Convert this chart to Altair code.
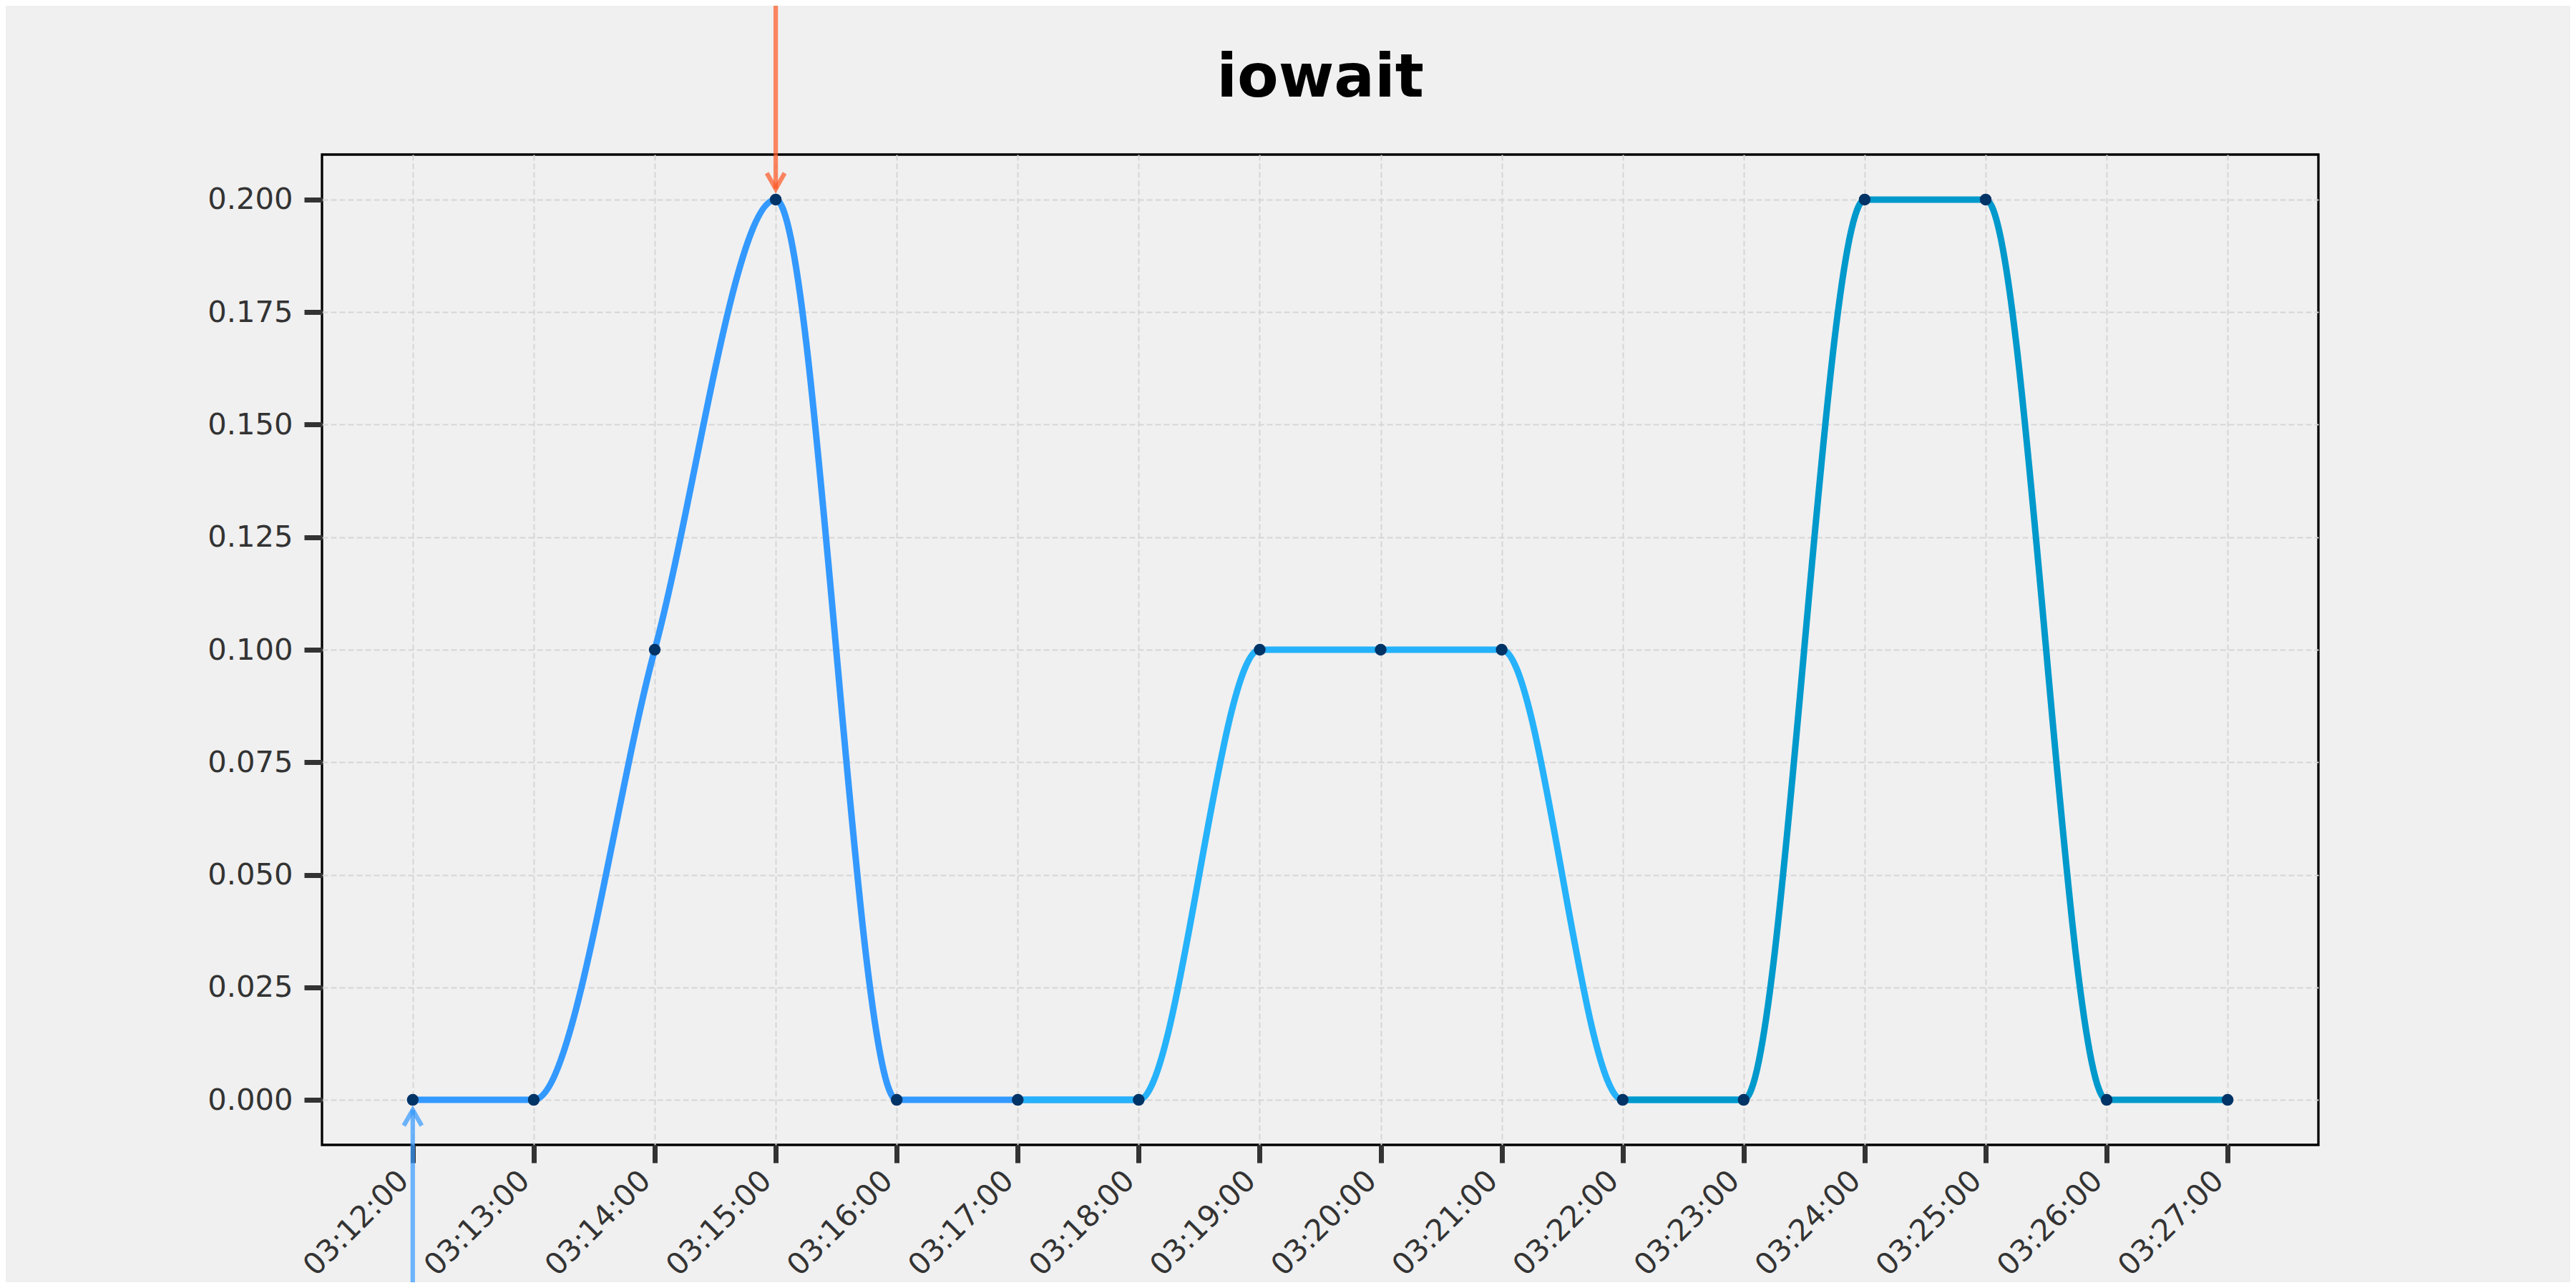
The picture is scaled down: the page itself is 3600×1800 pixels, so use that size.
import altair as alt
import pandas as pd

# ---------------- data ----------------
times = ["03:12:00", "03:13:00", "03:14:00", "03:15:00", "03:16:00", "03:17:00",
         "03:18:00", "03:19:00", "03:20:00", "03:21:00", "03:22:00", "03:23:00",
         "03:24:00", "03:25:00", "03:26:00", "03:27:00"]
values = [0.0, 0.0, 0.1, 0.2, 0.0, 0.0, 0.0, 0.1, 0.1, 0.1, 0.0, 0.0, 0.2, 0.2, 0.0, 0.0]

segment_names = ["segment 1", "segment 2", "segment 3"]
segment_starts = [0, 5, 10]
segment_ends = [5, 10, 15]
segment_colors = ["#3399ff", "#25b2fa", "#0099cc"]

ytick_values = [0.0, 0.025, 0.05, 0.075, 0.1, 0.125, 0.15, 0.175, 0.2]
x_domain = ["03:11:15", "03:27:45"]
y_domain = [-0.01, 0.21]

annot_down_time = ["03:15:00"]
annot_down_value = [0.2]
annot_up_time = ["03:12:00"]
annot_up_value = [0.0]

title_text = ["iowait"]


def to_min(t):
    h, m, s = (int(p) for p in t.split(":"))
    return h * 60 + m + s / 60.0


# ---------------- tables ----------------
# each segment is drawn with one extra point of context at its end so the
# smooth curve leaves the segment's last point with the right tangent; the next
# segment (drawn later) paints over that overlap.
rows = []
for name, a, b in zip(segment_names, segment_starts, segment_ends):
    for i in range(a, min(b + 1, len(times) - 1) + 1):
        rows.append({"t": to_min(times[i]), "v": values[i], "seg": name, "idx": i})
seg_df = pd.DataFrame(rows)
pts_df = pd.DataFrame({"t": [to_min(t) for t in times], "v": values})
down_df = pd.DataFrame({"t": [to_min(t) for t in annot_down_time], "v": annot_down_value})
up_df = pd.DataFrame({"t": [to_min(t) for t in annot_up_time], "v": annot_up_value})
title_df = pd.DataFrame({"label": title_text})

W, H = 2790, 1384
FONT = "DejaVu Sans"
GRID = dict(grid=True, gridColor="#d5d5d5", gridDash=[8, 4], gridWidth=2)

x_enc = alt.X(
    "t:Q",
    scale=alt.Scale(domain=[to_min(x_domain[0]), to_min(x_domain[1])], nice=False, zero=False),
    axis=alt.Axis(
        values=[to_min(t) for t in times],
        labelExpr="format(floor(datum.value / 60), '02d') + ':' + format(datum.value % 60, '02d') + ':00'",
        labelAngle=-45, labelAlign="right", labelBaseline="alphabetic",
        labelPadding=27, labelOffset=-4, labelFlush=False, labelOverlap=False,
        labelLimit=1000,
        labelFont=FONT, labelFontSize=41.7, labelColor="#333333",
        tickSize=25, tickWidth=7, tickColor="#333333",
        domain=False, title=None, **GRID,
    ),
)
y_enc = alt.Y(
    "v:Q",
    scale=alt.Scale(domain=y_domain, nice=False, zero=False),
    axis=alt.Axis(
        values=ytick_values, format=".3f",
        labelFont=FONT, labelFontSize=41.7, labelColor="#333333",
        labelPadding=16, labelBaseline="middle", labelLimit=1000,
        tickSize=25, tickWidth=7, tickColor="#333333",
        domain=False, title=None, **GRID,
    ),
)

line = alt.Chart(seg_df).mark_line(interpolate="monotone", strokeWidth=9).encode(
    x=x_enc,
    y=y_enc,
    color=alt.Color("seg:N", scale=alt.Scale(domain=segment_names, range=segment_colors), legend=None),
    order="idx:Q",
)

dots = alt.Chart(pts_df).mark_circle(size=270, color="#003366", opacity=1).encode(
    x="t:Q", y="v:Q"
)

shaft_down = alt.Chart(down_df).mark_rule(
    color="#ff5722", opacity=0.7, strokeWidth=6.25, yOffset=-15
).encode(x="t:Q", y="v:Q", y2=alt.value(-260))
head_down = alt.Chart(down_df).mark_point(
    shape="M-1,-1.76L0,0L1,-1.76", size=625, filled=False,
    color="#ff5722", opacity=0.7, strokeWidth=6.25, yOffset=-15
).encode(x="t:Q", y="v:Q")

shaft_up = alt.Chart(up_df).mark_rule(
    color="#3399ff", opacity=0.7, strokeWidth=6.25, yOffset=14
).encode(x="t:Q", y="v:Q", y2=alt.value(H + 300))
head_up = alt.Chart(up_df).mark_point(
    shape="M-1,1.76L0,0L1,1.76", size=625, filled=False,
    color="#3399ff", opacity=0.7, strokeWidth=6.25, yOffset=14
).encode(x="t:Q", y="v:Q")

title_mark = alt.Chart(title_df).mark_text(
    font=FONT, fontSize=84, fontWeight="bold", color="black",
    align="center", baseline="alphabetic"
).encode(text="label:N", x=alt.value(W / 2), y=alt.value(-81))

chart = alt.layer(
    line, dots, shaft_down, head_down, shaft_up, head_up, title_mark
).properties(
    width=W, height=H,
    autosize=alt.AutoSizeParams(type="none"),
    padding={"left": 442, "top": 208, "right": 352, "bottom": 192},
    background="#f0f0f0",
).configure_view(stroke="black", strokeWidth=3.3, fill="#f0f0f0")

chart.save("out.html", embed_options={"renderer": "svg", "actions": False})
